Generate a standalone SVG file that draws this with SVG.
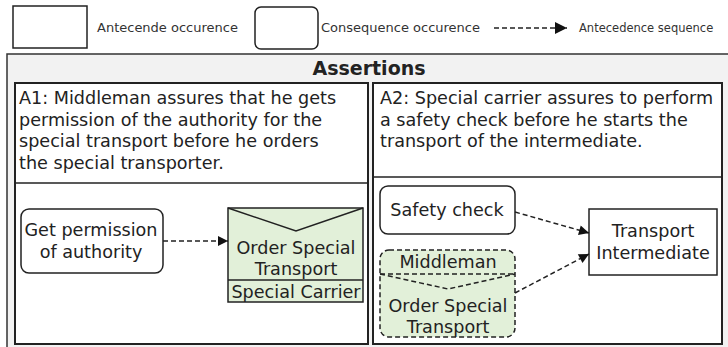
<svg xmlns="http://www.w3.org/2000/svg" width="728" height="347" viewBox="0 0 728 347">
<defs>
<style>
text{font-family:"DejaVu Sans",Verdana,sans-serif;fill:#222}
.lg{font-size:13px;fill:#333}
.t{font-size:17.6px}
.b{stroke:#222;stroke-width:1.5;fill:#fff}
.g{stroke:#222;stroke-width:1.5;fill:#e2f0d9}
.panel{stroke:#222;stroke-width:2;fill:#fff}
.d{stroke:#222;stroke-width:1.5;fill:none;stroke-dasharray:5,3}
</style>
<marker id="ah" viewBox="0 0 10 10" refX="10" refY="5" markerWidth="14" markerHeight="10" orient="auto" markerUnits="userSpaceOnUse">
<path d="M0,0 L10,5 L0,10 z" fill="#111"/>
</marker>
<marker id="ah2" viewBox="0 0 10 10" refX="10" refY="5" markerWidth="19" markerHeight="12" orient="auto" markerUnits="userSpaceOnUse">
<path d="M0,0 L10,5 L0,10 z" fill="#111"/>
</marker>
</defs>
<rect width="728" height="347" fill="#fff"/>
<g id="legend">
<rect x="13" y="6" width="74" height="42" class="b"/>
<text class="lg" x="97" y="32">Antecende occurence</text>
<rect x="255" y="7" width="63" height="42" rx="6" class="b"/>
<text class="lg" x="321" y="32">Consequence occurence</text>
<line x1="494" y1="28" x2="567" y2="28" class="d" marker-end="url(#ah2)"/>
<text class="lg" x="579" y="32" style="font-size:11.5px">Antecedence sequence</text>
</g>
<g id="assertions">
<rect x="7" y="54" width="730" height="300" fill="#f2f2f2" stroke="#333" stroke-width="1.5"/>
<text x="369" y="75" text-anchor="middle" style="font-size:19px;font-weight:bold">Assertions</text>
</g>
<g id="A1">
<rect x="15" y="83" width="353" height="261" class="panel"/>
<line x1="15" y1="183" x2="368" y2="183" stroke="#222" stroke-width="1.5"/>
<text class="t" x="19" y="104">A1: Middleman assures that he gets</text>
<text class="t" x="19" y="126">permission of the authority for the</text>
<text class="t" x="19" y="147">special transport before he orders</text>
<text class="t" x="19" y="169">the special transporter.</text>
</g>
<g id="A2">
<rect x="373" y="83" width="349" height="261" class="panel"/>
<line x1="373" y1="177" x2="722" y2="177" stroke="#222" stroke-width="1.5"/>
<text class="t" x="380" y="104">A2: Special carrier assures to perform</text>
<text class="t" x="380" y="126">a safety check before he starts the</text>
<text class="t" x="380" y="147">transport of the intermediate.</text>
</g>
<g id="get-permission">
<rect x="21" y="209" width="142" height="64" rx="8" class="b"/>
<text class="t" x="91" y="236" text-anchor="middle">Get permission</text>
<text class="t" x="91" y="258" text-anchor="middle">of authority</text>
</g>
<g id="order-special-transport-a1">
<rect x="228" y="208" width="135" height="94" class="g"/>
<polyline points="228,208 296,231 363,208" fill="none" stroke="#222" stroke-width="1.5"/>
<line x1="228" y1="280" x2="363" y2="280" stroke="#222" stroke-width="1.5"/>
<text class="t" x="296" y="254" text-anchor="middle">Order Special</text>
<text class="t" x="296" y="275" text-anchor="middle">Transport</text>
<text class="t" x="296" y="298" text-anchor="middle">Special Carrier</text>
</g>
<g id="safety-check">
<rect x="380" y="186" width="135" height="48" rx="8" class="b"/>
<text class="t" x="447" y="216" text-anchor="middle">Safety check</text>
</g>
<g id="transport-intermediate">
<rect x="589" y="209" width="128" height="66" class="b"/>
<text class="t" x="653" y="237" text-anchor="middle">Transport</text>
<text class="t" x="653" y="259" text-anchor="middle">Intermediate</text>
</g>
<g id="order-special-transport-a2">
<rect x="380" y="250" width="135" height="87" rx="9" class="d" style="fill:#e2f0d9"/>
<line x1="380" y1="274" x2="515" y2="274" class="d"/>
<polyline points="380,274 448,289 515,274" class="d"/>
<text class="t" x="448" y="268" text-anchor="middle">Middleman</text>
<text class="t" x="448" y="312" text-anchor="middle">Order Special</text>
<text class="t" x="448" y="333" text-anchor="middle">Transport</text>
</g>
<g id="connectors">
<line x1="163" y1="241" x2="228" y2="241" class="d" marker-end="url(#ah)"/>
<line x1="515" y1="212" x2="589" y2="233" class="d" marker-end="url(#ah)"/>
<line x1="515" y1="293" x2="589" y2="254" class="d" marker-end="url(#ah)"/>
</g>
</svg>
